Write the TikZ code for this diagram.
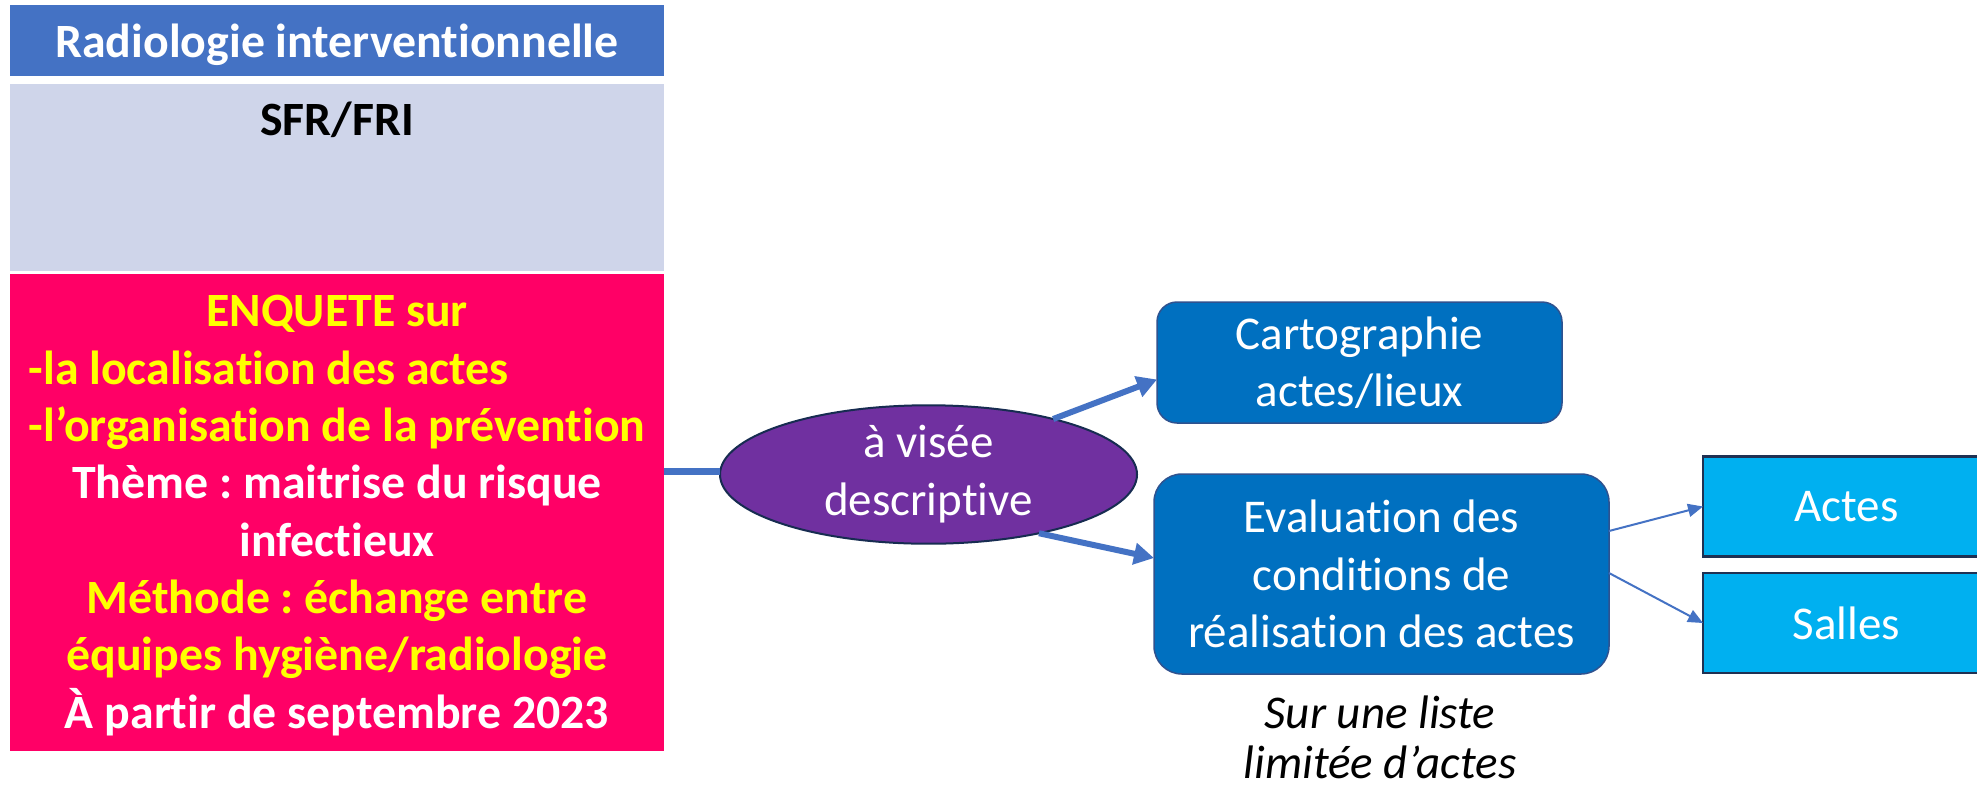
\documentclass[tikz,border=0pt]{standalone}
\usepackage{fontspec}
\setmainfont{Carlito}[Ligatures=NoCommon]
\usetikzlibrary{arrows.meta,shapes.geometric,calc}
\definecolor{titleblue}{HTML}{4472C4}
\definecolor{lav}{HTML}{CFD5EA}
\definecolor{pinkc}{HTML}{FF0066}
\definecolor{yel}{HTML}{FFFF00}
\definecolor{purp}{HTML}{7030A0}
\definecolor{ellb}{HTML}{172C51}
\definecolor{midblue}{HTML}{0070C0}
\definecolor{midborder}{HTML}{2F528F}
\definecolor{lightb}{HTML}{00B0F0}
\definecolor{navy}{HTML}{1F3153}
\definecolor{arrowc}{HTML}{4472C4}
\newcommand\bigsz{\frenchspacing\fontsize{47}{57.3}\selectfont}
\newcommand\boldsz{\frenchspacing\fontsize{47.8}{57.3}\selectfont\bfseries}
\begin{document}
\begin{tikzpicture}[x=1pt,y=-1pt,
  band/.style={rectangle, inner sep=0pt, outer sep=0pt, minimum width=654pt},
  roundbox/.style={rectangle, rounded corners=#1, fill=midblue, draw=midborder, line width=1.5pt,
    inner sep=0pt, outer sep=0pt, text=white, align=center, font=\bigsz},
  sqbox/.style={rectangle, fill=lightb, draw=navy, line width=2.5pt, inner sep=0pt, outer sep=0pt,
    minimum width=287pt, minimum height=100pt, text=white, font=\bigsz},
  thickarrow/.style={draw=arrowc, line width=6pt, -{Triangle[length=20pt,width=21pt]}},
  thinarrow/.style={draw=arrowc, line width=2pt, -{Triangle[length=15pt,width=13pt]}}
]
\useasboundingbox (0,0) rectangle (1977,788);
\fill[white] (0,0) rectangle (1977,788);

\node[band, fill=titleblue, minimum height=71pt, text=white, font=\boldsz, text depth=0pt] (title) at (337,40.5)
  {Radiologie interventionnelle};
\node[band, fill=lav, minimum height=187pt] (sfr) at (337,177.5) {};
\node[anchor=base, font=\boldsz, inner sep=0pt] (sfrtext) at (337,135) {SFR/FRI};

\node[band, fill=pinkc, minimum height=477pt] (pink) at (337,512.5) {};
\node[anchor=base, font=\boldsz, text=white, align=center, inner sep=0pt] (enquete) at (337,728)
  {{\color{yel}ENQUETE sur}\\
   {\color{yel}\rlap{-la localisation des actes}\hphantom{-l’organisation de la prévention}}\\
   {\color{yel}-l’organisation de la prévention}\\
   Thème : maitrise du risque\\
   infectieux\\
   {\color{yel}Méthode : échange entre}\\
   {\color{yel}équipes hygiène/radiologie}\\
   À partir de septembre 2023};

\node[ellipse, fill=purp, draw=ellb, line width=2pt, inner sep=0pt, outer sep=0pt,
  minimum width=417pt, minimum height=137pt, text=white, align=center,
  font=\frenchspacing\fontsize{47}{58}\selectfont] (ell) at (928.5,474.5)
  {à visée\\descriptive};

\node[roundbox=20pt, minimum width=405pt, minimum height=121pt] (carto) at (1359.5,362.5)
  {Cartographie\\actes/lieux};
\node[roundbox=28pt, minimum width=455pt, minimum height=200pt] (eval) at (1381.5,574)
  {Evaluation des\\conditions de\\réalisation des actes};

\node[sqbox] (actes) at (1846.5,506.5) {Actes};
\node[sqbox] (salles) at (1846.5,623) {Salles};

\node[font=\bigsz\itshape, align=center, inner sep=0pt, anchor=base] (note) at (1380,778)
  {Sur une liste\\[-8pt]limitée d’actes};

\draw[draw=arrowc, line width=7pt] ($(pink.east)+(0,-41)$) -- ($(ell.west)+(0,-3)$);
\draw[thickarrow] (ell.24) -- ($(carto.west)+(0,17)$);
\draw[thickarrow] (ell.-28) -- ($(eval.west)+(0,-16)$);
\draw[thinarrow] ($(eval.east)+(0,-43)$) -- (actes.west);
\draw[thinarrow] ($(eval.east)+(0,-1)$) -- (salles.west);
\end{tikzpicture}
\end{document}
